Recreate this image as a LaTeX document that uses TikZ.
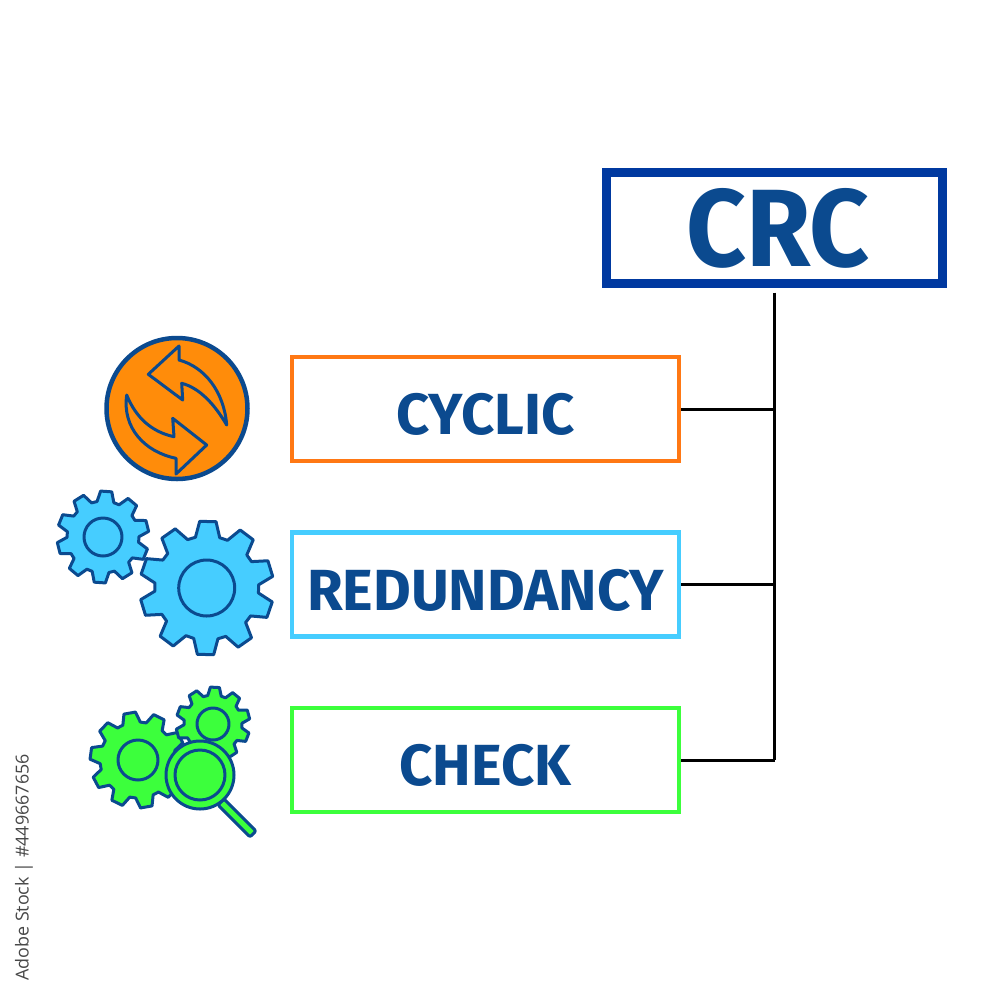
\documentclass[tikz,border=0pt]{standalone}
\usepackage{fontspec}
\setmainfont{Fira Sans}
\newfontfamily\stockfont{Open Sans}
\usetikzlibrary{positioning}
\definecolor{inkblue}{RGB}{11,74,143}
\definecolor{crcblue}{RGB}{0,57,160}
\definecolor{cyclicorange}{RGB}{255,120,20}
\definecolor{iconorange}{RGB}{255,140,10}
\definecolor{redsky}{RGB}{70,205,255}
\definecolor{checkgreen}{RGB}{60,255,60}
\tikzset{
    label box/.style={draw, line width=4.5pt, minimum width=387pt, minimum height=104pt, inner sep=0pt, outer sep=2.25pt,
        text=inkblue, text height=51pt, text depth=0pt, font=\fontsize{58}{58}\selectfont\bfseries},
    icon line/.style={draw=inkblue, line width=3pt, line join=round},
    pics/gear/.style args={#1/#2/#3/#4}{code={
        \draw[icon line, pic actions] (#4-13.5:#3)
            \foreach \k in {0,...,9} {
                -- ({#4+36*\k-13.5}:#3) -- ({#4+36*\k-7}:#2) -- ({#4+36*\k+7}:#2) -- ({#4+36*\k+13.5}:#3)
            } -- cycle;
        \draw[icon line] (0,0) circle (#1);
    }},
}
\begin{document}
\begin{tikzpicture}[x=1pt, y=-1pt]
    \useasboundingbox (0,0) rectangle (1000,996);
    % title and the three words
    \node[draw=crcblue, line width=8.5pt, minimum width=336pt, minimum height=111pt, inner sep=0pt, outer sep=9pt,
        text=inkblue, font=\fontsize{110}{110}\selectfont\bfseries] (crc) at (774.5,228) {\hspace*{7pt}\scalebox{0.95}[1]{CRC}};
    \node[label box, draw=cyclicorange] (cyclic) at (485.5,409) {CYCLIC};
    \node[label box, draw=redsky] (redundancy) at (485.5,584.5) {REDUNDANCY};
    \node[label box, draw=checkgreen] (check) at (485.5,760) {CHECK};
    % connectors
    \draw[line width=3pt] (crc.south) -- (crc.south |- check.east);
    \draw[line width=3pt] (cyclic.east) -- (cyclic.east -| crc.south);
    \draw[line width=3pt] (redundancy.east) -- (redundancy.east -| crc.south);
    \draw[line width=3pt] (check.east) -- (check.east -| crc.south);
    % cyclic icon
    \draw[draw=inkblue, line width=4.5pt, fill=iconorange] (177,408.5) circle (70.5);
    \draw[icon line] (148.3,374.3) -- (179,346) -- (179,360)
        .. controls (205,367) and (224,392) .. (226.7,425)
        .. controls (215,405) and (200,388) .. (181.7,383.3)
        -- (182.7,400) -- cycle;
    \draw[icon line] (126.7,395)
        .. controls (136,418) and (152,432) .. (174,436.7)
        -- (172.7,418.3) -- (206.7,445) -- (176,474) -- (176,458.3)
        .. controls (145,452) and (122,428) .. (126.7,395) -- cycle;
    % blue gears
    \pic[fill=redsky] (gearsmall) at (103,537) {gear={19/46/36/94}};
    \pic[fill=redsky] (gearbig) at (206.7,588) {gear={28/67/52/91}};
    % green gears and magnifier
    \pic[fill=checkgreen] (gearleft) at (138,760) {gear={20/48/38/80}};
    \pic[fill=checkgreen] (gearright) at (213,724) {gear={16/37/29/93}};
    \draw[icon line, fill=checkgreen, rounded corners=2pt] (218,805) -- (224,799) -- (256,831) -- (250,837) -- cycle;
    \draw[icon line, fill=checkgreen] (200,775) circle (34);
    \draw[icon line] (200,775) circle (25);
    % stock line at the left edge
    \node[rotate=90, text=black!72, font=\stockfont\fontsize{17.9}{17.9}\selectfont, inner sep=0pt] (stock) at (24,867.5) {Adobe Stock | \#449667656};
\end{tikzpicture}
\end{document}
